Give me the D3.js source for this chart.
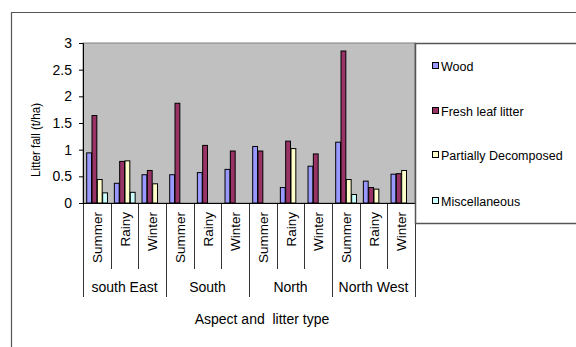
<!DOCTYPE html>
<html><head><meta charset="utf-8">
<script src="https://cdn.jsdelivr.net/npm/d3@7"></script>
<style>body{margin:0;background:#fff}svg{display:block;font-family:"Liberation Sans",Arial,sans-serif}</style>
</head><body><svg id="c" width="576" height="347"></svg>
<script>
const groups = ["south East","South","North","North West"];
const seasons = ["Summer","Rainy","Winter"];
const seriesNames = ["Wood","Fresh leaf litter","Partially Decomposed","Miscellaneous"];
const seriesColors = ["#9999FF","#993366","#FFFFCC","#CCFFFF"];
// values per category (group x season), order: SE Su,Ra,Wi; S Su,Ra,Wi; N Su,Ra,Wi; NW Su,Ra,Wi
const wood    = [0.94,0.37,0.53, 0.53,0.57,0.63, 1.06,0.29,0.69, 1.14,0.41,0.54];
const fresh   = [1.64,0.78,0.61, 1.87,1.08,0.975, 0.975,1.16,0.92, 2.85,0.29,0.55];
const partial = [0.44,0.79,0.36, 0,0,0, 0,1.02,0, 0.44,0.26,0.61];
const misc    = [0.19,0.20,0, 0,0,0, 0,0,0, 0.16,0,0];
const yTicks = [0,0.5,1,1.5,2,2.5,3];

const series = [wood,fresh,partial,misc];
const cats = [];
groups.forEach(g=>seasons.forEach(s=>cats.push(g+"|"+s)));

const svg = d3.select("#c");
const L=83,R=415,T=43,B=203;
const x = d3.scaleBand().domain(cats).range([L,R]).paddingInner(0).paddingOuter(0);
const bw = x.bandwidth()/5.2;
const inner = d3.scaleBand().domain(d3.range(4)).range([0.6*bw, 4.6*bw]);
const y = d3.scaleLinear().domain([0,3]).range([B,T]);

// outer frame
svg.append("path").attr("d",`M11.5,347 V12.5 H576`).attr("fill","none").attr("stroke","#555").attr("stroke-width",1.2);

// plot bg
svg.append("rect").attr("x",L).attr("y",T).attr("width",R-L).attr("height",B-T).attr("fill","#C0C0C0").attr("stroke","#808080").attr("stroke-width",1);

// bars
series.forEach((vals,si)=>{
  svg.append("g").selectAll("rect").data(vals.map((v,i)=>({v,i})).filter(d=>d.v>0)).join("rect")
    .attr("x",d=>x(cats[d.i])+inner(si)+0.5)
    .attr("y",d=>y(d.v))
    .attr("width",inner.bandwidth()-0.5)
    .attr("height",d=>B-y(d.v))
    .attr("fill",seriesColors[si]).attr("stroke","#000").attr("stroke-width",1);
});

// y axis
const ya = d3.axisLeft(y).tickValues(yTicks).tickSize(4).tickFormat(d3.format("~g"));
const gy = svg.append("g").attr("transform",`translate(${L},0)`).call(ya);
gy.select(".domain").attr("stroke","#000");
gy.selectAll(".tick line").attr("stroke","#000");
gy.selectAll(".tick text").attr("font-size",14).attr("fill","#000").attr("x",-11).attr("font-family","Liberation Sans, Arial, sans-serif");

// x axis line
svg.append("line").attr("x1",L).attr("x2",R).attr("y1",B+0.5).attr("y2",B+0.5).attr("stroke","#000");

// season separators and labels
cats.forEach((c,i)=>{
  const x0 = x(c);
  const isGroup = i%3===0;
  svg.append("line").attr("x1",Math.round(x0)+0.5).attr("x2",Math.round(x0)+0.5).attr("y1",B).attr("y2",isGroup?297:269).attr("stroke","#000").attr("stroke-width",0.8);
  svg.append("text").attr("transform",`translate(${x0+x.bandwidth()/2+5},212) rotate(-90)`)
    .attr("text-anchor","end").attr("font-size",13.5).attr("fill","#000").text(c.split("|")[1]);
});
svg.append("line").attr("x1",R+0.5).attr("x2",R+0.5).attr("y1",B).attr("y2",297).attr("stroke","#000").attr("stroke-width",0.8);

// group labels
groups.forEach((g,gi)=>{
  const x0 = x(cats[gi*3]), x1 = x(cats[gi*3+2])+x.bandwidth();
  svg.append("text").attr("x",(x0+x1)/2).attr("y",292).attr("text-anchor","middle").attr("font-size",14).attr("fill","#000").text(g);
});

// axis titles
svg.append("text").attr("x",262).attr("y",324).attr("text-anchor","middle").attr("font-size",14).attr("fill","#000")
  .style("white-space","pre").text("Aspect and  litter type");
svg.append("text").attr("transform","translate(40,140) rotate(-90)").attr("text-anchor","middle").attr("font-size",12)
  .attr("textLength",74).attr("lengthAdjust","spacingAndGlyphs").attr("fill","#000").text("Litter fall (t/ha)");

// legend
svg.append("path").attr("d",`M576,43.5 H415.5 V223.5 H576`).attr("fill","#fff").attr("stroke","#555").attr("stroke-width",1.5);
const ly = [66,111,155,201];
seriesNames.forEach((n,i)=>{
  svg.append("rect").attr("x",432.5).attr("y",ly[i]-3.5).attr("width",6).attr("height",6).attr("fill",seriesColors[i]).attr("stroke","#000").attr("stroke-width",1);
  svg.append("text").attr("x",441).attr("y",ly[i]+4.5).attr("font-size",12.5).attr("fill","#000").text(n);
});
</script></body></html>
